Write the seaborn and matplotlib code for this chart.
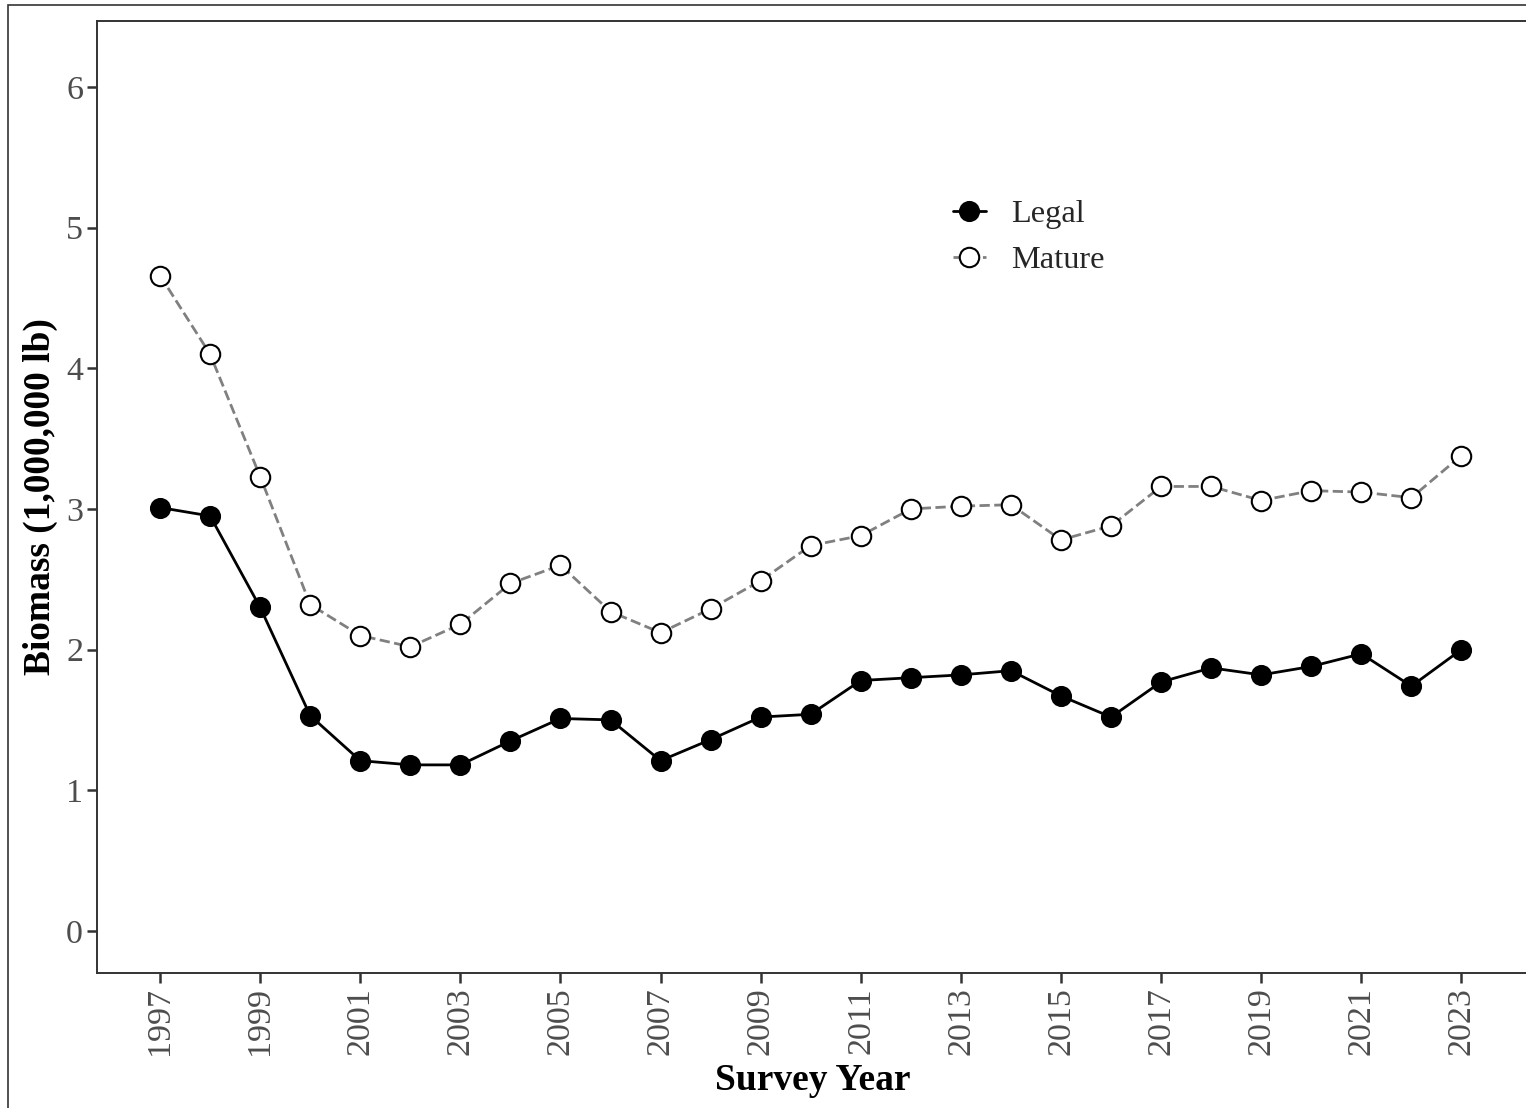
import matplotlib
matplotlib.use("Agg")
import matplotlib.pyplot as plt
import seaborn as sns
import pandas as pd
from matplotlib.patches import Rectangle

years = list(range(1997, 2024))
legal = [3.01, 2.95, 2.30, 1.53, 1.21, 1.18, 1.18, 1.35, 1.51, 1.50,
         1.21, 1.36, 1.52, 1.54, 1.78, 1.80, 1.82, 1.85, 1.67, 1.52,
         1.77, 1.87, 1.82, 1.88, 1.97, 1.74, 2.00]
mature = [4.66, 4.10, 3.23, 2.32, 2.10, 2.02, 2.18, 2.47, 2.60, 2.27,
          2.12, 2.29, 2.49, 2.74, 2.81, 3.00, 3.02, 3.03, 2.78, 2.88,
          3.16, 3.16, 3.06, 3.13, 3.12, 3.08, 3.38]
xticks = list(range(1997, 2024, 2))
yticks = [0, 1, 2, 3, 4, 5, 6]

df = pd.DataFrame({"Year": years, "Legal": legal, "Mature": mature})

sns.set_theme(style="white")
plt.rcParams["font.family"] = ["Liberation Serif", "DejaVu Serif"]

W, H = 1526, 1108
fig = plt.figure(figsize=(W / 100, H / 100), dpi=100)
ax = fig.add_axes([97 / W, (H - 973) / H, (1528 - 97) / W, (973 - 21) / H])

sns.lineplot(data=df, x="Year", y="Mature", ax=ax, color="#808080",
             linestyle="--", dashes=(4.5, 3.2), linewidth=2.0, marker="o",
             markersize=14, markerfacecolor="white", markeredgecolor="black",
             markeredgewidth=1.5, label="Mature", zorder=2)
sns.lineplot(data=df, x="Year", y="Legal", ax=ax, color="black",
             linewidth=2.0, marker="o", markersize=14,
             markerfacecolor="black", markeredgecolor="black",
             markeredgewidth=1.2, label="Legal", zorder=3)

ax.set_xlim(1995.74, 2024.33)
ax.set_ylim(-0.30, 6.47)
ax.set_xticks(xticks)
ax.set_xticklabels([str(y) for y in xticks], rotation=90)
ax.set_yticks(yticks)
ax.tick_params(axis="both", labelsize=24.5, labelcolor="#4d4d4d", color="#333333",
               length=7, width=1.8, direction="out", pad=3)
ax.tick_params(axis="both", bottom=True, left=True)
for s in ax.spines.values():
    s.set_color("#333333")
    s.set_linewidth(1.4)

ax.set_xlabel("Survey Year", fontsize=27, fontweight="bold", color="black", labelpad=6)
ax.set_ylabel("Biomass (1,000,000 lb)", fontsize=27, fontweight="bold", color="black", labelpad=6)

handles, labels = ax.get_legend_handles_labels()
order = [labels.index("Legal"), labels.index("Mature")]
leg = ax.legend([handles[i] for i in order], [labels[i] for i in order],
                loc="upper left", bbox_to_anchor=(0.578, 0.843), frameon=False,
                fontsize=23.3, handlelength=1.0, handletextpad=0.8, labelspacing=0.5)

fig.patches.append(Rectangle((8 / W, -0.1), 2.0, 1.1 - 5 / H, transform=fig.transFigure,
                             fill=False, edgecolor="#333333", linewidth=1.2))

fig.savefig("out.png", dpi=100)
